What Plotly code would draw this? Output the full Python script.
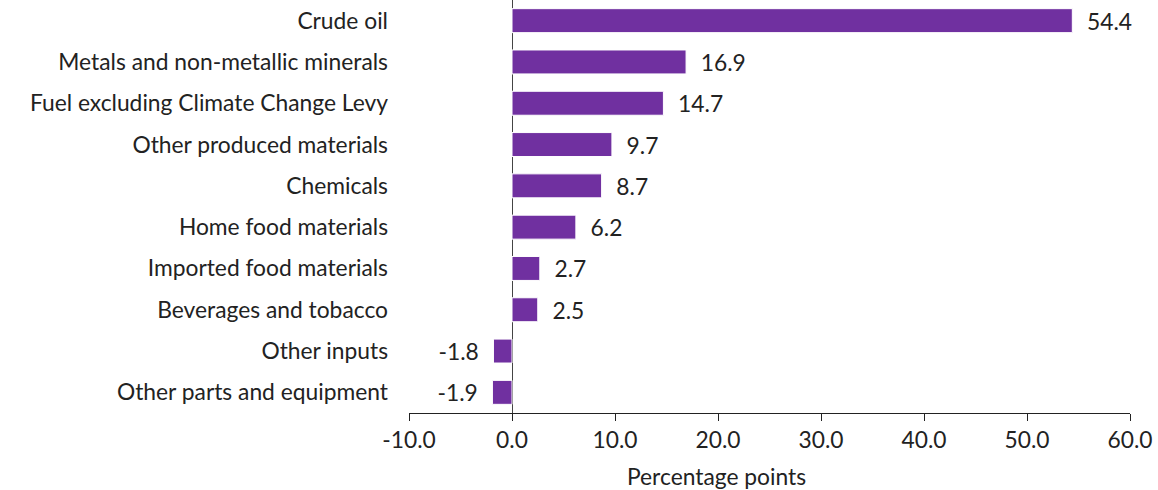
import plotly.graph_objects as go

categories = [
    "Crude oil",
    "Metals and non-metallic minerals",
    "Fuel excluding Climate Change Levy",
    "Other produced materials",
    "Chemicals",
    "Home food materials",
    "Imported food materials",
    "Beverages and tobacco",
    "Other inputs",
    "Other parts and equipment",
]
values = [54.4, 16.9, 14.7, 9.7, 8.7, 6.2, 2.7, 2.5, -1.8, -1.9]
tick_values = [-10, 0, 10, 20, 30, 40, 50, 60]
tick_labels = [f"{v:.1f}" for v in tick_values]
x_title = "Percentage points"

NB = "\u00a0"
labels = [(NB * 2 + f"{v:.1f}") if v >= 0 else (f"{v:.1f}" + NB * 2) for v in values]

FS = 22.8

fig = go.Figure(
    go.Bar(
        x=values,
        y=categories,
        orientation="h",
        marker=dict(color="#7030A0", line=dict(color="white", width=1)),
        width=0.58,
        text=labels,
        textposition="outside",
        constraintext="none",
        cliponaxis=False,
        textfont=dict(family="Lato", size=FS, color="#222222"),
    )
)

fig.update_layout(
    width=1158,
    height=490,
    margin=dict(l=409, r=28, t=0, b=77),
    paper_bgcolor="white",
    plot_bgcolor="white",
    font=dict(family="Lato", size=FS, color="#222222"),
    showlegend=False,
    xaxis=dict(
        range=[-10, 60],
        tickvals=tick_values,
        ticktext=tick_labels,
        ticks="outside",
        ticklen=7,
        tickcolor="#222222",
        showline=True,
        linecolor="#222222",
        linewidth=1,
        showgrid=False,
        zeroline=True,
        zerolinecolor="#444444",
        zerolinewidth=1,
        tickfont=dict(size=FS),
    ),
    yaxis=dict(
        autorange="reversed",
        showgrid=False,
        showline=False,
        ticks="",
        ticklabelstandoff=20,
        tickfont=dict(size=FS),
    ),
    annotations=[
        dict(
            text=x_title,
            xref="paper",
            yref="paper",
            x=0.426,
            y=-0.1525,
            xanchor="center",
            yanchor="middle",
            showarrow=False,
            font=dict(family="Lato", size=FS, color="#222222"),
        )
    ],
)

fig.write_html("out.html")
